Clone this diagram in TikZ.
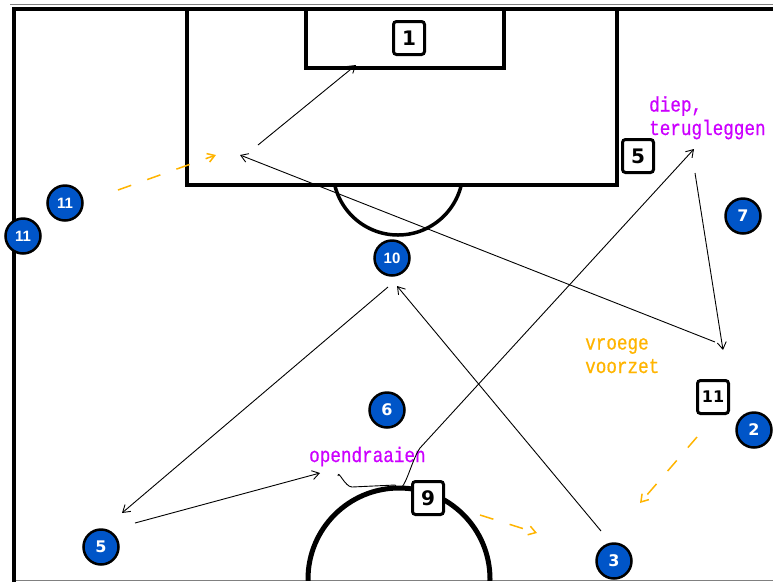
\documentclass[tikz,border=0pt]{standalone}
\usepackage{fontspec}
\usepackage{xcolor}
\usepackage{tikz}
\usetikzlibrary{arrows,arrows.meta,shapes,calc}
\setmainfont{Liberation Sans}
\newfontfamily\notefont[FakeStretch=0.84, FakeBold=0.6]{Liberation Mono}
\newfontfamily\numfont{DejaVu Sans}
\definecolor{shirtblue}{RGB}{0,85,200}
\definecolor{notemagenta}{RGB}{204,0,255}
\definecolor{runorange}{RGB}{255,180,0}

\begin{document}
\begin{tikzpicture}[x=1pt, y=-1pt, ->, >={Straight Barb[length=7pt,width=9pt]},
		player/.style={circle, draw=black, line width=2.5pt, fill=shirtblue, text=white,
			minimum size=35pt, inner sep=0pt, font=\numfont\fontsize{16}{16}\selectfont\bfseries},
		twodigit/.style={font=\fontsize{15}{15}\selectfont\bfseries},
		opponent/.style={rectangle, rounded corners=3pt, draw=black, line width=3pt, fill=white,
			minimum width=31pt, minimum height=33pt, inner sep=0pt, font=\numfont\fontsize{20}{20}\selectfont\bfseries},
		pass/.style={black, line width=0.9pt},
		run/.style={runorange, line width=1.5pt, dash pattern=on 14pt off 17pt},
		note/.style={font=\notefont\fontsize{21}{23.5}\selectfont, align=left, inner sep=0pt}]
		\useasboundingbox (0,0) rectangle (773,582);
		% field
		\begin{scope}[-, line width=3.5pt]
			\draw [gray, line width=0.8pt] (10,4) -- (773,4);
			\draw [gray, line width=0.8pt] (14,580) -- (773,580);
			\draw (14,582) -- (14,9) -- (773,9);
			\draw (187,9) -- (187,185) -- (617,185) -- (617,9);
			\draw (306,9) -- (306,68) -- (504,68) -- (504,9);
			\begin{scope}
				\clip (300,187) rectangle (500,260);
				\draw (398,170) circle [radius=65pt];
			\end{scope}
			\begin{scope}
				\clip (0,0) rectangle (773,580);
				\draw [line width=5pt] (399,579) circle [radius=91pt];
			\end{scope}
		\end{scope}

		\begin{scope}
			\node [player, twodigit] (p11a) at (65,203) {11};
			\node [player, twodigit] (p11b) at (23,236) {11};
			\node [player, twodigit] (p10) at (392,258) {10};
			\node [player] (p7) at (743,216) {7};
			\node [player] (p2) at (754,430) {2};
			\node [player] (p6) at (387,410) {6};
			\node [player] (p5) at (101,547) {5};
			\node [player] (p3) at (614,561) {3};

			\node [opponent] (o1) at (409,38) {1};
			\node [opponent] (o5) at (638,156) {5};
			\node [opponent, font=\numfont\fontsize{16}{16}\selectfont\bfseries] (o11) at (713,397) {11};
			\node [opponent] (o9) at (428,498) {9};

			\node [note, text=notemagenta, anchor=base west] (deep) at (649,135) {diep,\\terugleggen};
			\node [note, text=runorange, anchor=base west] (early) at (585,373) {vroege\\voorzet};
			\node [note, text=notemagenta, anchor=base west] (turn) at (309,462) {opendraaien};

			% free ends of the passes and runs
			\coordinate (shotA) at (258,145);
			\coordinate (shotB) at (356,65);
			\coordinate (crossA) at (715,342);
			\coordinate (crossB) at (240,155);
			\coordinate (backA) at (695,173);
			\coordinate (backB) at (723,350);
			\coordinate (turnA) at (338,476);
			\coordinate (deepB) at (694,149);
			\coordinate (longA) at (388,287);
			\coordinate (longB) at (122,513);
			\coordinate (shortA) at (135,523);
			\coordinate (shortB) at (320,473);
			\coordinate (upA) at (601,531);
			\coordinate (upB) at (397,286);
			\coordinate (runA) at (118,190);
			\coordinate (runB) at (216,155);
			\coordinate (runC) at (697,437);
			\coordinate (runD) at (640,503);
			\coordinate (runE) at (480,515);
			\coordinate (runF) at (537,533);

			\path [pass] (shotA) edge (shotB)
				(crossA) edge (crossB)
				(backA) edge (backB)
				(longA) edge (longB)
				(shortA) edge (shortB)
				(upA) edge (upB);
			\draw [pass] (turnA) to [out=90, in=180] (352,487) -- (395,485)
				to [out=-60, in=-125] (420,448) -- (deepB);
			\path [run] (runA) edge (runB)
				(runC) edge (runD)
				(runE) edge (runF);
		\end{scope}
\end{tikzpicture}
\end{document}
